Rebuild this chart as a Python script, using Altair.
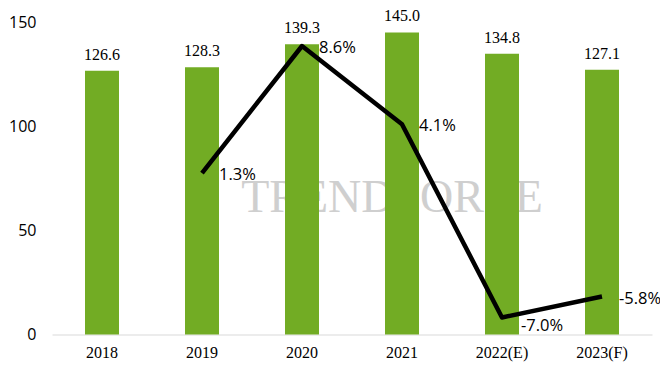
import altair as alt
import pandas as pd

years = ["2018", "2019", "2020", "2021", "2022(E)", "2023(F)"]
shipments = [126.6, 128.3, 139.3, 145.0, 134.8, 127.1]
growth = [None, 1.3, 8.6, 4.1, -7.0, -5.8]
growth_labels = ["", "1.3%", "8.6%", "4.1%", "-7.0%", "-5.8%"]
watermark = ["TRENDFORCE"]

df = pd.DataFrame({
    "year": years,
    "shipments": shipments,
    "growth": growth,
    "glabel": growth_labels,
})
df["slabel"] = [f"{v:.1f}" for v in shipments]

wm_df = pd.DataFrame({"t": watermark})

x = alt.X(
    "year:N", sort=years, title=None,
    scale=alt.Scale(paddingInner=0, paddingOuter=0),
    axis=alt.Axis(labelAngle=0, labelFont="Liberation Serif", labelFontSize=16,
                  labelColor="#000000", labelPadding=10, ticks=False,
                  domainColor="#D9D9D9", domainWidth=1),
)

y_left = alt.Y(
    "shipments:Q", title=None,
    scale=alt.Scale(domain=[0, 150], nice=False),
    axis=alt.Axis(values=[0, 50, 100, 150], grid=False, domain=False, ticks=False,
                  labelFont="Open Sans", labelFontSize=16, labelPadding=16,
                  labelColor="#000000"),
)

y_right = alt.Y(
    "growth:Q", title=None,
    scale=alt.Scale(domain=[-7.98, 9.98], nice=False, zero=False),
    axis=None,
)

base = alt.Chart(df)

wm = alt.Chart(wm_df).mark_text(
    font="Liberation Serif", fontSize=46, color="#C4C4C4", opacity=0.8,
    align="center", baseline="alphabetic",
).encode(x=alt.value(340), y=alt.value(190), text="t:N")

bars = base.mark_bar(color="#72AC24", width=34).encode(x=x, y=y_left)
bar_text = base.mark_text(
    font="Liberation Serif", fontSize=16, color="#000000",
    baseline="alphabetic", dy=-11,
).encode(x=x, y=y_left, text="slabel:N")
left = alt.layer(bars, bar_text)

line = base.mark_line(color="#000000", strokeWidth=4.5, strokeJoin="round").encode(
    x=x, y=y_right
).transform_filter("isValid(datum.growth)")
lab_main = base.mark_text(
    font="Open Sans", fontSize=16.5, color="#000000", align="left",
    baseline="middle", dx=17, dy=2,
).encode(x=x, y=y_right, text="glabel:N").transform_filter(
    "datum.glabel != '' && datum.glabel != '-7.0%'"
)
lab_low = base.mark_text(
    font="Open Sans", fontSize=16.5, color="#000000", align="left",
    baseline="middle", dx=19, dy=9,
).encode(x=x, y=y_right, text="glabel:N").transform_filter(
    "datum.glabel == '-7.0%'"
)
right = alt.layer(line, lab_main, lab_low)

chart = alt.layer(wm, left, right).resolve_scale(y="independent").properties(
    width=600, height=312.5,
    autosize=alt.AutoSizeParams(type="none"),
    padding={"left": 44, "top": 14, "right": 8, "bottom": 30},
    background="white",
).configure_view(stroke=None)

chart.save("out.html", embed_options={"renderer": "svg", "actions": False})
